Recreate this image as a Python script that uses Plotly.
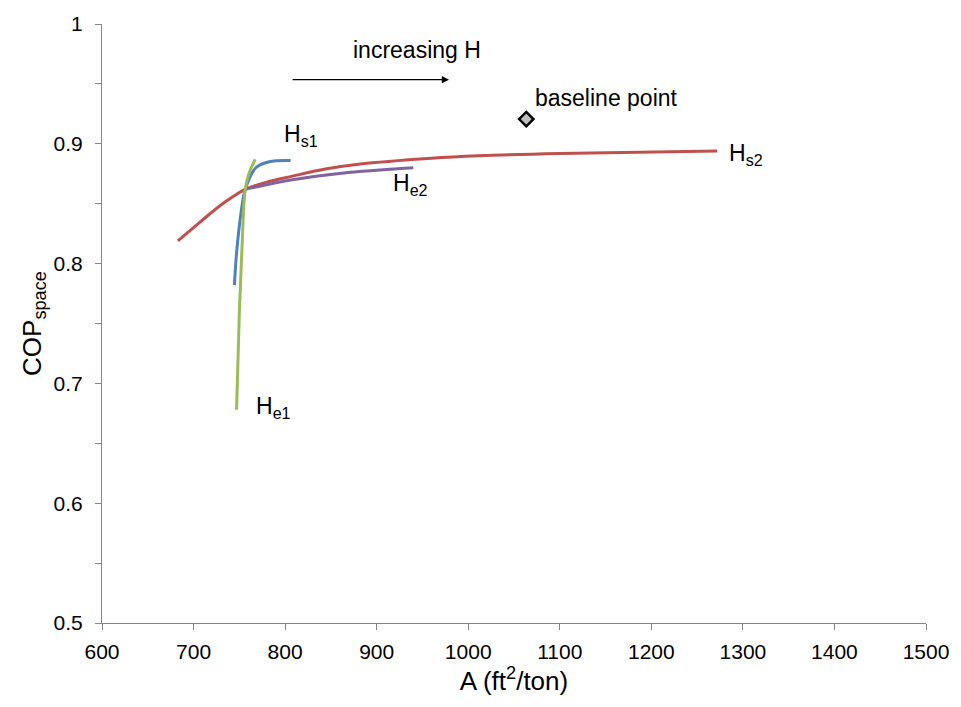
import plotly.graph_objects as go

# Condenser area per ton vs. space-cooling COP for four parameter sweeps
hs1_area = [744.6, 747.0, 751.8, 756.5, 768.0, 782.6, 806.0]
hs1_cop = [0.782, 0.809, 0.842, 0.862, 0.880, 0.885, 0.886]

he1_area = [747.0, 750.0, 753.0, 756.5, 760.9, 767.4]
he1_cop = [0.678, 0.759, 0.815, 0.862, 0.876, 0.887]

hs2_area = [682.9, 700.0, 717.0, 735.5, 756.5, 780.0, 808.0, 844.0, 880.0, 960.0, 1011.0, 1100.0, 1272.0]
hs2_cop = [0.819, 0.830, 0.841, 0.852, 0.862, 0.868, 0.873, 0.879, 0.883, 0.888, 0.890, 0.892, 0.894]

he2_area = [756.5, 808.0, 862.0, 940.0]
he2_cop = [0.862, 0.870, 0.8755, 0.880]

baseline_area = [1063.4]
baseline_cop = [0.9206]

x_ticks = [600, 700, 800, 900, 1000, 1100, 1200, 1300, 1400, 1500]
y_ticks = [0.5, 0.6, 0.7, 0.8, 0.9, 1.0]
y_tick_text = ["0.5", "0.6", "0.7", "0.8", "0.9", "1"]

FONT = "Liberation Sans"
AXIS_GREY = "#868686"

fig = go.Figure()

series = [
    (hs2_area, hs2_cop, "#C0504D"),
    (he2_area, he2_cop, "#8064A2"),
    (hs1_area, hs1_cop, "#4F81BD"),
    (he1_area, he1_cop, "#9BBB59"),
]
for xs, ys, color in series:
    fig.add_trace(go.Scatter(
        x=xs, y=ys, mode="lines",
        line=dict(color=color, width=3, shape="spline", smoothing=1.0),
        showlegend=False, hoverinfo="skip",
    ))

fig.add_trace(go.Scatter(
    x=baseline_area, y=baseline_cop, mode="markers",
    marker=dict(symbol="diamond", size=11, color="#BFBFBF",
                line=dict(color="black", width=2.5)),
    showlegend=False,
))

label_font = dict(family=FONT, size=23, color="black")
labels = [
    (1070.6, 0.938, "baseline point"),
    (797.0, 0.907, "H<sub>s1</sub>"),
    (916.0, 0.866, "H<sub>e2</sub>"),
    (1282.6, 0.891, "H<sub>s2</sub>"),
    (766.3, 0.680, "H<sub>e1</sub>"),
]
for x, y, text in labels:
    fig.add_annotation(x=x, y=y, text=text, showarrow=False,
                       xanchor="left", yanchor="middle", font=label_font)

fig.add_annotation(x=944, y=0.978, text="increasing H", showarrow=False,
                   xanchor="center", yanchor="middle", font=label_font)
fig.add_annotation(x=979, y=0.9535, ax=806.5, ay=0.9535,
                   xref="x", yref="y", axref="x", ayref="y",
                   text="", showarrow=True, arrowhead=2, arrowsize=1.2,
                   arrowwidth=1.2, arrowcolor="black")

fig.update_layout(
    width=961, height=707,
    margin=dict(l=102, r=31, t=20, b=84),
    paper_bgcolor="white", plot_bgcolor="white",
    font=dict(family=FONT, color="black", size=22),
)
fig.update_xaxes(
    range=[600, 1500], tickvals=x_ticks,
    showline=True, linecolor=AXIS_GREY, linewidth=1,
    ticks="outside", ticklen=6, tickcolor=AXIS_GREY,
    showgrid=False, zeroline=False,
    tickfont=dict(family=FONT, size=21),
    ticklabelstandoff=4,
    title=dict(text="A (ft<sup>2</sup>/ton)", font=dict(family=FONT, size=26), standoff=6),
)
fig.update_yaxes(
    range=[0.5, 1.0], tickvals=y_ticks, ticktext=y_tick_text,
    showline=True, linecolor=AXIS_GREY, linewidth=1,
    ticks="outside", ticklen=6, tickcolor=AXIS_GREY,
    minor=dict(dtick=0.05, ticks="outside", ticklen=6, tickcolor=AXIS_GREY, showgrid=False),
    showgrid=False, zeroline=False,
    tickfont=dict(family=FONT, size=21),
    ticklabelstandoff=8,
    title=dict(text="COP<sub>space</sub>", font=dict(family=FONT, size=26), standoff=4),
)

fig.write_html("out.html")
